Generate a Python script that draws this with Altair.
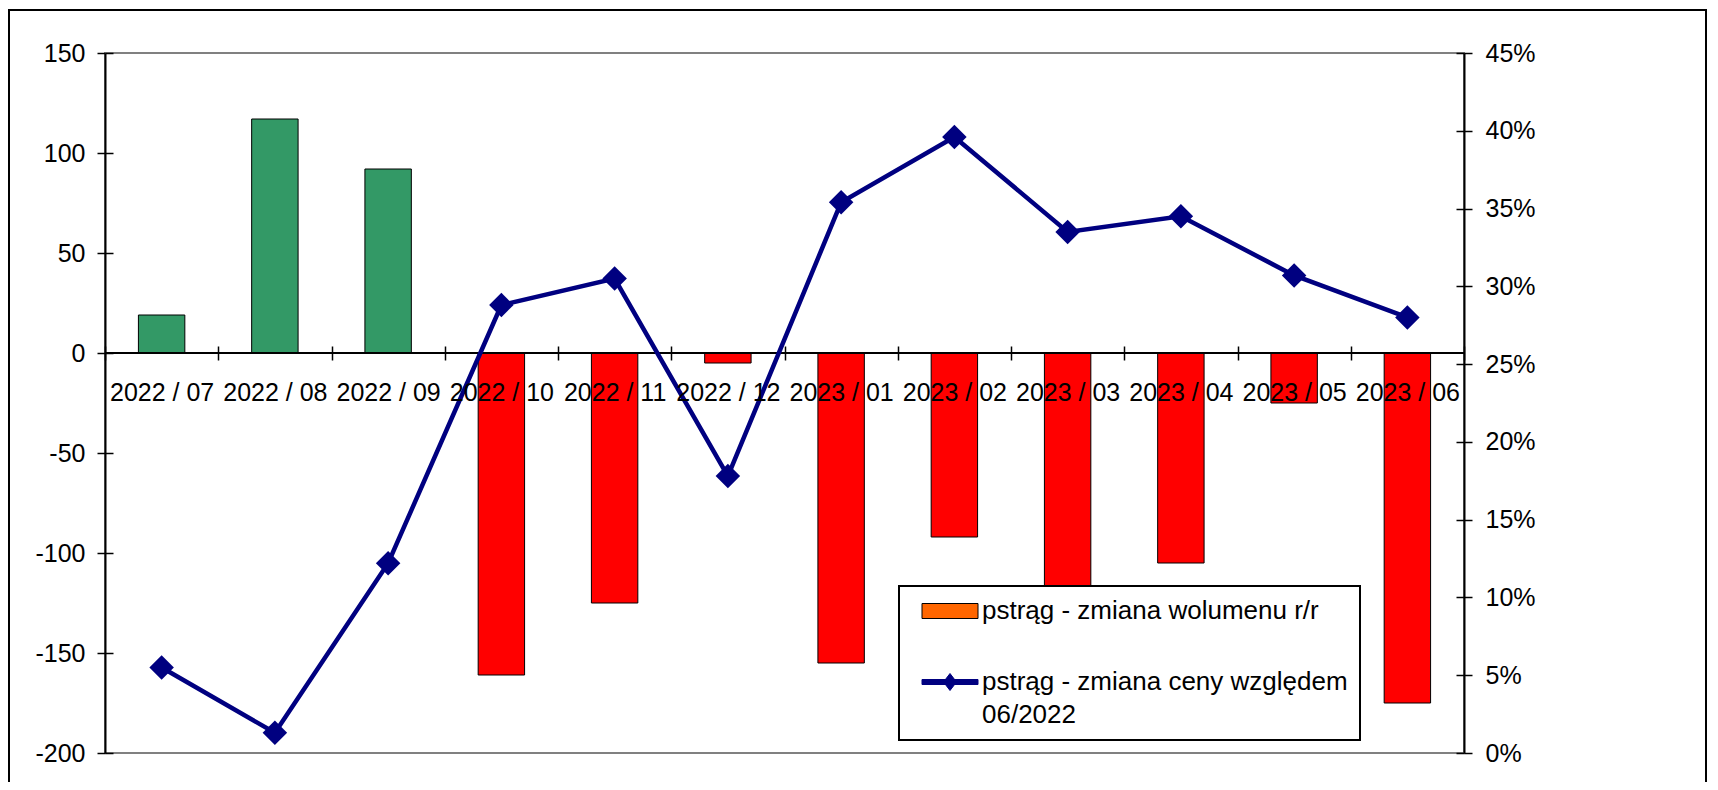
import sys
import altair as alt
import pandas as pd

FONT = "Liberation Sans"

months = ["2022 / 07", "2022 / 08", "2022 / 09", "2022 / 10", "2022 / 11", "2022 / 12",
          "2023 / 01", "2023 / 02", "2023 / 03", "2023 / 04", "2023 / 05", "2023 / 06"]
volume_change = [19, 117, 92, -161, -125, -5, -155, -92, -150, -105, -25, -175]
price_change = [0.055, 0.013, 0.122, 0.288, 0.305, 0.178, 0.354, 0.396, 0.335, 0.345, 0.307, 0.280]
series_names = ["pstrąg - zmiana wolumenu r/r", "pstrąg - zmiana ceny względem\n06/2022"]
legend_fills = ["#FF6600", "#000080"]
legend_strokes = ["#000000", "#000080"]
legend_shapes = ["M-2.8,-0.75H2.8V0.75H-2.8Z",
                 "M-2.8,-0.25H2.8V0.25H-2.8Z M0,-0.85L0.65,0L0,0.85L-0.65,0Z"]
left_ticks = [-200, -150, -100, -50, 0, 50, 100, 150]
right_ticks = [0, 0.05, 0.10, 0.15, 0.20, 0.25, 0.30, 0.35, 0.40, 0.45]


def build(legend_stroke=True):
    df = pd.DataFrame({"month": months, "vol": volume_change, "price": price_change})
    legend_df = pd.DataFrame({"series": series_names})
    zero_df = pd.DataFrame({"z": [0]})
    frame_df = pd.DataFrame({"f": [0]})

    left_scale = alt.Scale(domain=[-200, 150], nice=False, zero=False)
    right_scale = alt.Scale(domain=[0, 0.45], nice=False, zero=False)

    xaxis = alt.Axis(title=None, orient="bottom", offset=-407, domain=False, tickSize=14,
                     tickWidth=1.5, tickColor="black", tickBand="extent", labelPadding=20,
                     labelAngle=0, labelOverlap=False, labelFlush=False, labelBound=False,
                     labelFontSize=25, labelFont=FONT, labelColor="black", zindex=1)
    xenc = alt.X("month:N", sort=months,
                 scale=alt.Scale(paddingInner=0, paddingOuter=0), axis=xaxis)

    left_axis = alt.Axis(orient="left", values=left_ticks, title=None, grid=False,
                         domainColor="black", domainWidth=2, tickSize=8, tickWidth=1.5,
                         tickColor="black", labelPadding=12, labelFontSize=25, labelFont=FONT,
                         labelColor="black", labelExpr="'' + datum.value")
    inner_left_axis = alt.Axis(orient="left", values=left_ticks, title=None, grid=False,
                               offset=-8, tickSize=8, tickWidth=1.5, tickColor="black",
                               labels=False, domain=False)
    right_axis = alt.Axis(orient="right", values=right_ticks, title=None, grid=False,
                          domainColor="black", domainWidth=2, tickSize=8, tickWidth=1.5,
                          tickColor="black", labelPadding=13, labelFontSize=25, labelFont=FONT,
                          labelColor="black", labelExpr="round(datum.value * 100) + '%'")
    inner_right_axis = alt.Axis(orient="right", values=right_ticks, title=None, grid=False,
                                offset=-8, tickSize=8, tickWidth=1.5, tickColor="black",
                                labels=False, domain=False)

    legend = alt.Legend(
        title=None, orient="none", legendX=794, legendY=533,
        fillColor="white", strokeColor="black", padding=12,
        symbolSize=400, symbolStrokeWidth=1, symbolOffset=26, labelOffset=19,
        symbolOpacity=1,
        labelFontSize=26, labelFont=FONT, labelColor="black", labelLimit=600,
        labelExpr="split(datum.label, '\\n')", rowPadding=45,
    )

    frame = alt.Chart(frame_df).mark_rect(filled=False, stroke="black", strokeWidth=2).encode(
        x=alt.value(-96), x2=alt.value(1601), y=alt.value(-43), y2=alt.value(760))

    bars = alt.Chart(df).mark_bar(stroke="black", strokeWidth=1,
                                  width=alt.RelativeBandSize(0.41)).encode(
        x=xenc,
        y=alt.Y("vol:Q", scale=left_scale, axis=left_axis),
        fill=alt.condition("datum.vol > 0", alt.value("#339966"), alt.value("#FF0000")),
    )

    zero_rule = alt.Chart(zero_df).mark_rule(color="black", strokeWidth=2).encode(
        y=alt.Y("z:Q", scale=left_scale, axis=inner_left_axis))

    line = alt.Chart(df).mark_line(strokeWidth=4.5, color="#000080").encode(
        x=xenc,
        y=alt.Y("price:Q", scale=right_scale, axis=right_axis),
    )

    points = alt.Chart(df).mark_point(shape="diamond", filled=True, size=600,
                                      color="#000080", opacity=1).encode(
        x=xenc,
        y=alt.Y("price:Q", scale=right_scale, axis=inner_right_axis),
    )

    legend_layer = alt.Chart(legend_df).mark_point(filled=True, opacity=0).encode(
        fill=alt.Fill("series:N", sort=series_names,
                      scale=alt.Scale(domain=series_names, range=legend_fills), legend=legend),
        stroke=alt.Stroke("series:N", sort=series_names,
                          scale=alt.Scale(domain=series_names, range=legend_strokes),
                          legend=legend),
        shape=alt.Shape("series:N", sort=series_names,
                        scale=alt.Scale(domain=series_names, range=legend_shapes),
                        legend=legend),
    )

    chart = alt.layer(frame, bars, zero_rule, line, points, legend_layer).resolve_scale(
        y="independent"
    ).properties(
        width=1359, height=700,
        padding={"left": 97, "top": 45, "right": 244, "bottom": 29},
        autosize=alt.AutoSizeParams(type="none"),
    ).configure(
        font=FONT, style={"guide-label": {"lineHeight": 33}}
    ).configure_view(stroke="#808080", strokeWidth=2)
    if legend_stroke:
        chart = chart.configure_legend(strokeWidth=2)
    return chart


try:
    try:
        chart = build(True)
        chart.to_dict()
    except Exception:
        chart = build(False)
    chart.save("out.html", embed_options={"renderer": "svg", "actions": False})
except Exception as e:
    sys.stderr.write("\nERRHEAD: " + str(e)[:900] + "\n")
    sys.exit(1)
